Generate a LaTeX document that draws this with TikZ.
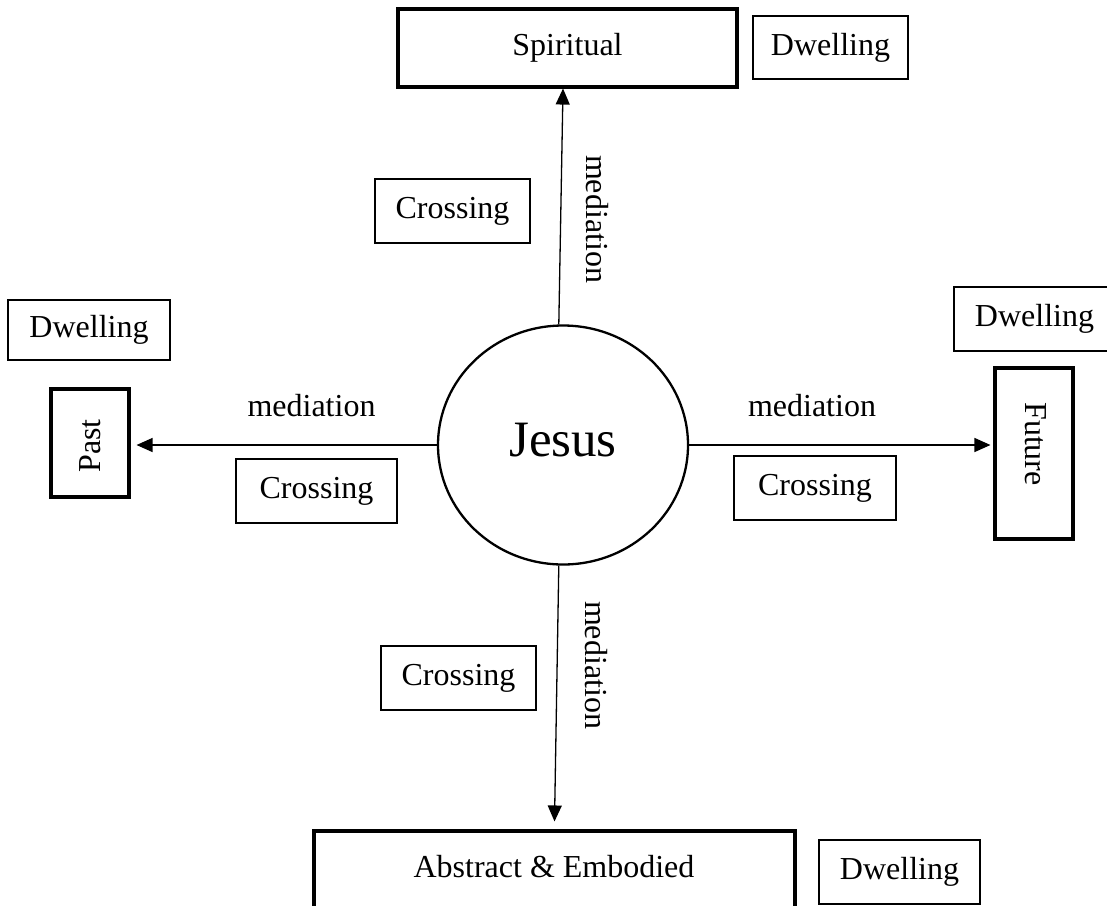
\documentclass[tikz,border=0pt]{standalone}
\usepackage{fontspec}
\setmainfont{Liberation Serif}
\usetikzlibrary{arrows.meta,shapes.geometric}
\begin{document}
\begin{tikzpicture}[x=1pt,y=-1pt,
  txt/.style={inner sep=0pt, font=\fontsize{32}{38}\selectfont},
  box/.style={txt, draw, line width=1.1pt},
  heavybox/.style={draw, inner sep=0pt, line width=3.1pt},
  arr/.style={line width=1.3pt, -{Triangle[length=16pt,width=14pt]}}]
\useasboundingbox (0,0) rectangle (1107,905);
\clip (0,0) rectangle (1107,905);

% central figure
\node[draw, ellipse, line width=2.3pt, minimum width=250pt, minimum height=239pt, inner sep=0pt] (jesus) at (563,445) {};
\node[inner sep=0pt, font=\fontsize{51}{60}\selectfont] (jesus-text) at (563,440) {Jesus};

% four poles
\node[heavybox, minimum width=339pt, minimum height=78pt] (spiritual) at (567.5,48) {};
\node[txt] (spiritual-text) at (567.5,48) {Spiritual};

\node[heavybox, minimum width=78pt, minimum height=108pt] (past) at (90,443) {};
\node[txt, rotate=90] (past-text) at (90,446) {Past};

\node[heavybox, minimum width=78pt, minimum height=171pt] (future) at (1034,453.5) {};
\node[txt, rotate=-90] (future-text) at (1036,444) {Future};

\node[heavybox, minimum width=481pt, minimum height=109pt] (abstract) at (554.5,885.5) {};
\node[txt, anchor=base] (abstract-text) at (554,877) {Abstract \& Embodied};

% dwelling boxes
\node[box, minimum width=155pt, minimum height=63pt] (dw-top) at (830.5,47.5) {Dwelling};
\node[box, minimum width=162pt, minimum height=60pt] (dw-left) at (89,330) {Dwelling};
\node[box, minimum width=161pt, minimum height=64pt] (dw-right) at (1034.5,319) {Dwelling};
\node[box, minimum width=161pt, minimum height=64pt] (dw-bottom) at (899.5,872) {Dwelling};

% crossing boxes
\node[box, minimum width=155pt, minimum height=64pt] (cr-top) at (452.5,211) {Crossing};
\node[box, minimum width=161pt, minimum height=64pt] (cr-left) at (316.5,491) {Crossing};
\node[box, minimum width=162pt, minimum height=64pt] (cr-right) at (815,488) {Crossing};
\node[box, minimum width=155pt, minimum height=64pt] (cr-bottom) at (458.5,678) {Crossing};

% mediation connectors
\draw[arr] (jesus.92) -- ([xshift=-4.5pt]spiritual.south);
\draw[arr] (jesus.-92) -- ([yshift=8pt]abstract.north);
\draw[arr, shorten >=6pt] (jesus.west) -- (jesus.west -| past.east);
\draw[arr, shorten >=3pt] (jesus.east) -- (jesus.east -| future.west);

\node[txt, anchor=base] (med-left) at (311.5,416) {mediation};
\node[txt, anchor=base] (med-right) at (812,416) {mediation};
\node[txt, rotate=-90] (med-top) at (597,219) {mediation};
\node[txt, rotate=-90] (med-bottom) at (596,665) {mediation};
\end{tikzpicture}
\end{document}
